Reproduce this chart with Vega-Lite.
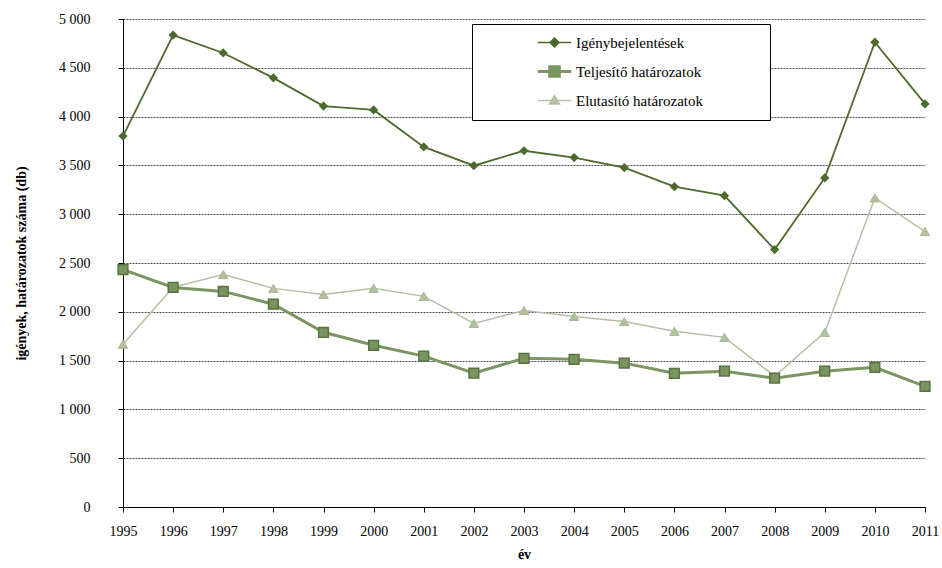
{
  "$schema": "https://vega.github.io/schema/vega-lite/v6.json",
  "width": 802,
  "height": 488,
  "autosize": {"type": "none"},
  "padding": {"left": 123, "top": 19, "right": 17, "bottom": 61},
  "background": "white",
  "config": {
    "font": "Liberation Serif",
    "view": {"stroke": null},
    "axis": {"labelFont": "Liberation Serif", "titleFont": "Liberation Serif", "labelColor": "#000", "titleColor": "#000", "domainColor": "#000", "tickColor": "#000", "labelFontSize": 14, "titleFontSize": 14, "titleFontWeight": "bold"},
    "legend": {"labelFont": "Liberation Serif", "labelFontSize": 15, "labelColor": "#000"}
  },
  "data": {"values": [
    {"year": 1995, "series": "Igénybejelentések", "value": 3800},
    {"year": 1996, "series": "Igénybejelentések", "value": 4835},
    {"year": 1997, "series": "Igénybejelentések", "value": 4652},
    {"year": 1998, "series": "Igénybejelentések", "value": 4397},
    {"year": 1999, "series": "Igénybejelentések", "value": 4108},
    {"year": 2000, "series": "Igénybejelentések", "value": 4068},
    {"year": 2001, "series": "Igénybejelentések", "value": 3690},
    {"year": 2002, "series": "Igénybejelentések", "value": 3497},
    {"year": 2003, "series": "Igénybejelentések", "value": 3650},
    {"year": 2004, "series": "Igénybejelentések", "value": 3580},
    {"year": 2005, "series": "Igénybejelentések", "value": 3478},
    {"year": 2006, "series": "Igénybejelentések", "value": 3282},
    {"year": 2007, "series": "Igénybejelentések", "value": 3190},
    {"year": 2008, "series": "Igénybejelentések", "value": 2638},
    {"year": 2009, "series": "Igénybejelentések", "value": 3372},
    {"year": 2010, "series": "Igénybejelentések", "value": 4762},
    {"year": 2011, "series": "Igénybejelentések", "value": 4130},
    {"year": 1995, "series": "Teljesítő határozatok", "value": 2432},
    {"year": 1996, "series": "Teljesítő határozatok", "value": 2250},
    {"year": 1997, "series": "Teljesítő határozatok", "value": 2209},
    {"year": 1998, "series": "Teljesítő határozatok", "value": 2078},
    {"year": 1999, "series": "Teljesítő határozatok", "value": 1790},
    {"year": 2000, "series": "Teljesítő határozatok", "value": 1657},
    {"year": 2001, "series": "Teljesítő határozatok", "value": 1546},
    {"year": 2002, "series": "Teljesítő határozatok", "value": 1372},
    {"year": 2003, "series": "Teljesítő határozatok", "value": 1524},
    {"year": 2004, "series": "Teljesítő határozatok", "value": 1513},
    {"year": 2005, "series": "Teljesítő határozatok", "value": 1474},
    {"year": 2006, "series": "Teljesítő határozatok", "value": 1370},
    {"year": 2007, "series": "Teljesítő határozatok", "value": 1391},
    {"year": 2008, "series": "Teljesítő határozatok", "value": 1320},
    {"year": 2009, "series": "Teljesítő határozatok", "value": 1391},
    {"year": 2010, "series": "Teljesítő határozatok", "value": 1431},
    {"year": 2011, "series": "Teljesítő határozatok", "value": 1235},
    {"year": 1995, "series": "Elutasító határozatok", "value": 1668},
    {"year": 1996, "series": "Elutasító határozatok", "value": 2252},
    {"year": 1997, "series": "Elutasító határozatok", "value": 2382},
    {"year": 1998, "series": "Elutasító határozatok", "value": 2240},
    {"year": 1999, "series": "Elutasító határozatok", "value": 2178},
    {"year": 2000, "series": "Elutasító határozatok", "value": 2240},
    {"year": 2001, "series": "Elutasító határozatok", "value": 2158},
    {"year": 2002, "series": "Elutasító határozatok", "value": 1881},
    {"year": 2003, "series": "Elutasító határozatok", "value": 2014},
    {"year": 2004, "series": "Elutasító határozatok", "value": 1953},
    {"year": 2005, "series": "Elutasító határozatok", "value": 1900},
    {"year": 2006, "series": "Elutasító határozatok", "value": 1800},
    {"year": 2007, "series": "Elutasító határozatok", "value": 1738},
    {"year": 2008, "series": "Elutasító határozatok", "value": 1340},
    {"year": 2009, "series": "Elutasító határozatok", "value": 1789},
    {"year": 2010, "series": "Elutasító határozatok", "value": 3168},
    {"year": 2011, "series": "Elutasító határozatok", "value": 2822}
  ]},
  "encoding": {
    "x": {"field": "year", "type": "quantitative", "scale": {"domain": [1995, 2011], "nice": false, "zero": false},
      "axis": {"title": "év", "values": [1995,1996,1997,1998,1999,2000,2001,2002,2003,2004,2005,2006,2007,2008,2009,2010,2011], "format": "d", "grid": false, "tickSize": 5, "labelPadding": 12, "titlePadding": 9, "labelFlush": false, "labelOverlap": false}},
    "y": {"field": "value", "type": "quantitative", "scale": {"domain": [0, 5000], "nice": false},
      "axis": {"title": "igények, határozatok száma (db)", "values": [0,500,1000,1500,2000,2500,3000,3500,4000,4500,5000], "labelExpr": "replace(format(datum.value, ','), ',', ' ')", "grid": true, "gridColor": "#222", "gridDash": [2, 1], "gridWidth": 0.8, "tickSize": 5, "labelPadding": 28, "titlePadding": 30, "labelFlush": false}}
  },
  "layer": [
    {"transform": [{"filter": "datum.series === 'Elutasító határozatok'"}],
     "mark": {"type": "line", "strokeWidth": 1.5},
     "encoding": {"color": {"field": "series", "type": "nominal",
       "scale": {"domain": ["Igénybejelentések", "Teljesítő határozatok", "Elutasító határozatok"], "range": ["#4b6a2b", "#7b9563", "#b3c1a2"]},
       "legend": {"title": null, "orient": "none", "legendX": 349, "legendY": 5, "strokeColor": "#000", "fillColor": "white", "padding": 11, "rowPadding": 9, "symbolSize": 256, "symbolOffset": 64, "labelOffset": 14,
         "encode": {"symbols": {"update": {
           "shape": {"signal": "datum.value === 'Igénybejelentések' ? 'M-2.1,0H2.1M0,-0.56L0.56,0L0,0.56L-0.56,0ZM24.75,0' : datum.value === 'Teljesítő határozatok' ? 'M-2.1,0H2.1M-0.6,-0.6H0.6V0.6H-0.6ZM24.75,0' : 'M-2.1,0H2.1M0,-0.6L0.62,0.45L-0.62,0.45ZM24.75,0'"},
           "fill": {"signal": "datum.value === 'Igénybejelentések' ? '#4b6a2b' : datum.value === 'Teljesítő határozatok' ? '#7a935f' : '#b3c1a2'"},
           "stroke": {"signal": "datum.value === 'Igénybejelentések' ? '#4b6a2b' : datum.value === 'Teljesítő határozatok' ? '#6f8a55' : '#b3c1a2'"},
           "strokeWidth": {"signal": "datum.value === 'Teljesítő határozatok' ? 3 : 1.5"},
           "opacity": {"value": 1}
         }}}}}}},
    {"transform": [{"filter": "datum.series === 'Elutasító határozatok'"}],
     "mark": {"type": "point", "shape": "triangle-up", "filled": true, "size": 90, "color": "#b1c09f", "opacity": 1, "stroke": "#a9b996", "strokeWidth": 1}},
    {"transform": [{"filter": "datum.series === 'Teljesítő határozatok'"}],
     "mark": {"type": "line", "strokeWidth": 3},
     "encoding": {"color": {"field": "series", "type": "nominal"}}},
    {"transform": [{"filter": "datum.series === 'Teljesítő határozatok'"}],
     "mark": {"type": "point", "shape": "square", "filled": true, "size": 95, "color": "#7a935f", "opacity": 1, "stroke": "#587440", "strokeWidth": 1.5}},
    {"transform": [{"filter": "datum.series === 'Igénybejelentések'"}],
     "mark": {"type": "line", "strokeWidth": 1.8},
     "encoding": {"color": {"field": "series", "type": "nominal"}}},
    {"transform": [{"filter": "datum.series === 'Igénybejelentések'"}],
     "mark": {"type": "point", "shape": "diamond", "filled": true, "size": 85, "color": "#4b6a2b", "opacity": 1}}
  ]
}
